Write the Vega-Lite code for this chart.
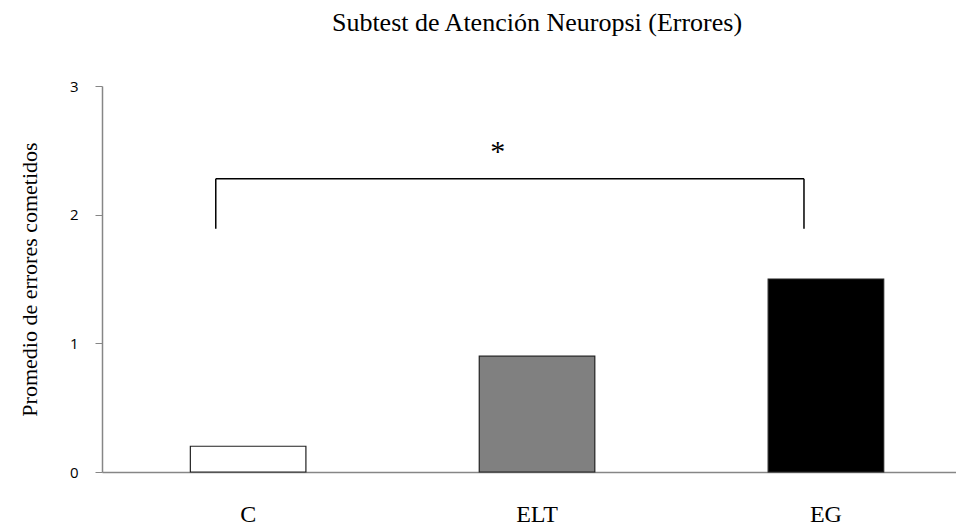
{
  "$schema": "https://vega.github.io/schema/vega-lite/v6.json",
  "autosize": "none",
  "width": 854,
  "height": 386,
  "padding": {"left": 102, "top": 86, "right": 0, "bottom": 55},
  "background": "white",
  "config": {"view": {"stroke": null}},
  "title": {
    "text": "Subtest de Atención Neuropsi (Errores)",
    "font": "Liberation Serif",
    "fontSize": 26,
    "fontWeight": "normal",
    "color": "#000000",
    "anchor": "middle",
    "baseline": "alphabetic",
    "offset": 22,
    "dx": 8
  },
  "datasets": {
    "bars": [
      {"grupo": "C", "valor": 0.2},
      {"grupo": "ELT", "valor": 0.9},
      {"grupo": "EG", "valor": 1.5}
    ],
    "bracket": [
      {"desde": "C", "hasta": "EG", "alto": 2.28, "bajo": 1.89}
    ],
    "sig": [
      {"grupo": "ELT", "y": 2.5, "marca": "*"}
    ]
  },
  "encoding": {
    "x": {
      "field": "grupo",
      "type": "nominal",
      "sort": ["C", "ELT", "EG"],
      "scale": {"domain": ["C", "ELT", "EG"], "paddingInner": 0.6, "paddingOuter": 0.278, "align": 0.55},
      "axis": {
        "title": null,
        "labelAngle": 0,
        "labelFont": "Liberation Serif",
        "labelFontSize": 24,
        "labelColor": "#000000",
        "labelPadding": 30,
        "ticks": false,
        "domainColor": "#868686",
        "domainWidth": 1.5
      }
    }
  },
  "layer": [
    {
      "data": {"name": "bars"},
      "mark": {"type": "bar", "stroke": "#222222", "strokeWidth": 1.2},
      "encoding": {
        "y": {
          "field": "valor",
          "type": "quantitative",
          "scale": {"domain": [0, 3]},
          "axis": {
            "title": "Promedio de errores cometidos",
            "titleFont": "Liberation Serif",
            "titleFontSize": 22,
            "titleFontWeight": "normal",
            "titleColor": "#000000",
            "titlePadding": 28,
            "values": [0, 1, 2, 3],
            "format": "d",
            "grid": false,
            "labelFont": "Open Sans",
            "labelFontSize": 15,
            "labelColor": "#000000",
            "labelPadding": 17,
            "tickSize": 7,
            "tickColor": "#868686",
            "domainColor": "#868686",
            "domainWidth": 1.5
          }
        },
        "color": {
          "field": "grupo",
          "type": "nominal",
          "scale": {"domain": ["C", "ELT", "EG"], "range": ["#ffffff", "#808080", "#000000"]},
          "legend": null
        }
      }
    },
    {
      "data": {"name": "bracket"},
      "mark": {"type": "rule", "color": "#000000", "strokeWidth": 1.5},
      "encoding": {
        "x": {"field": "desde", "type": "nominal", "bandPosition": 0.22},
        "x2": {"field": "hasta", "bandPosition": 0.31},
        "y": {"field": "alto", "type": "quantitative"}
      }
    },
    {
      "data": {"name": "bracket"},
      "mark": {"type": "rule", "color": "#000000", "strokeWidth": 1.5},
      "encoding": {
        "x": {"field": "desde", "type": "nominal", "bandPosition": 0.22},
        "y": {"field": "bajo", "type": "quantitative"},
        "y2": {"field": "alto"}
      }
    },
    {
      "data": {"name": "bracket"},
      "mark": {"type": "rule", "color": "#000000", "strokeWidth": 1.5},
      "encoding": {
        "x": {"field": "hasta", "type": "nominal", "bandPosition": 0.31},
        "y": {"field": "bajo", "type": "quantitative"},
        "y2": {"field": "alto"}
      }
    },
    {
      "data": {"name": "sig"},
      "mark": {"type": "text", "font": "Liberation Serif", "fontSize": 30, "color": "#000000", "baseline": "middle", "dy": 2},
      "encoding": {
        "x": {"field": "grupo", "type": "nominal", "bandPosition": 0.16},
        "y": {"field": "y", "type": "quantitative"},
        "text": {"field": "marca"}
      }
    }
  ]
}
